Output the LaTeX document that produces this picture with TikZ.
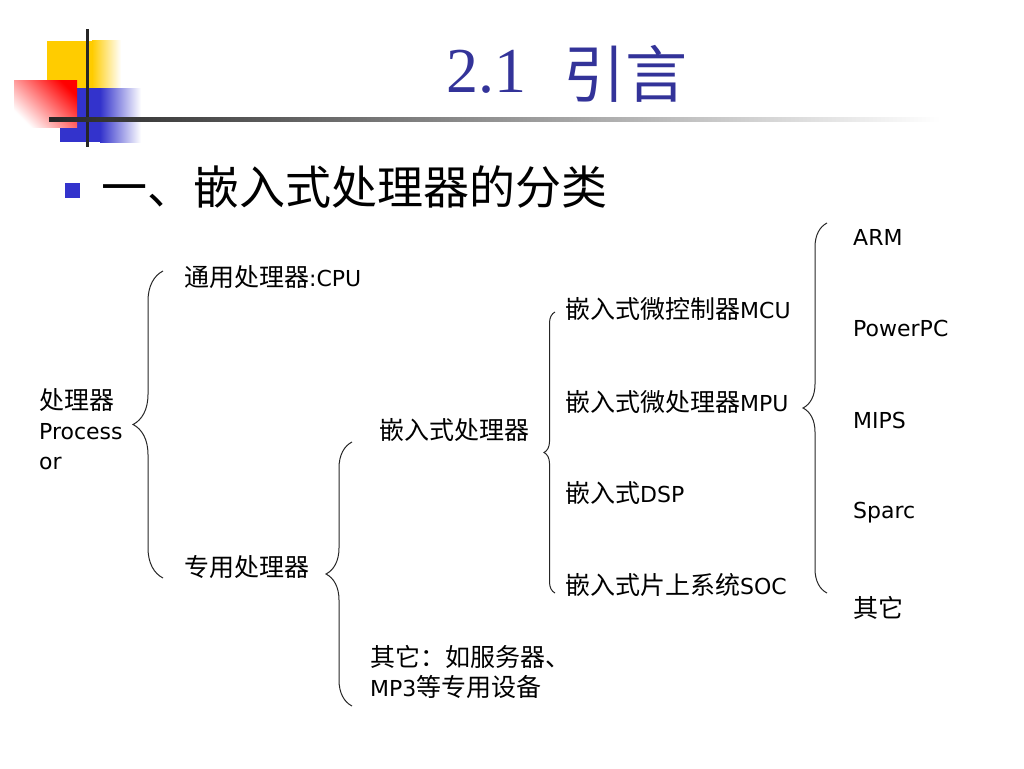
\documentclass[tikz,border=0pt]{standalone}
\usepackage{fontspec}
\setmainfont{DejaVu Sans}
\newfontfamily\cjk{Noto Sans CJK SC}
\newfontfamily\timesfont{Liberation Serif}
\usetikzlibrary{decorations.pathreplacing}
\definecolor{titleblue}{RGB}{51,51,153}
\definecolor{deckblue}{RGB}{51,51,204}
\definecolor{deckyellow}{RGB}{255,204,0}
\newcommand{\zh}[1]{{\cjk\fontsize{25}{30}\selectfont #1}}
\tikzset{
  item/.style={anchor=west, inner sep=0pt, align=left, font=\fontsize{22}{30}\selectfont},
  curly/.style={decorate, decoration={brace, amplitude=#1}, line width=1pt, black!85},
}
\begin{document}
\begin{tikzpicture}[x=1pt,y=-1pt]
      \useasboundingbox (0,0) rectangle (1024,768);

      % Corner squares
      \fill[deckyellow] (47,41) rectangle (92,88);
      \shade[left color=deckyellow, right color=white] (92,41) rectangle (121,88);
      \fill[deckblue] (60,88) rectangle (100,142);
      \shade[left color=deckblue, right color=white] (100,88) rectangle (141,142);
      \shade[top color=red, bottom color=white, shading angle=-45] (14,80) rectangle (77,127);

      % Cross lines
      \fill[black!85] (85.5,29) rectangle (88.5,147);
      \shade[left color=black!85, middle color=black!35, right color=white] (49,117) rectangle (940,121);

      % Title and heading
      \node[anchor=base west, inner sep=0pt, text=titleblue, font=\timesfont\fontsize{64}{64}\selectfont] (num) at (446,92) {2.1};
      \node[anchor=west, inner sep=0pt, text=titleblue, font=\cjk\fontsize{62}{62}\selectfont] (title) at (563,74) {引言};
      \node[fill=deckblue, minimum size=15pt, inner sep=0pt] (bullet) at (72.5,190) {};
      \node[anchor=west, inner sep=0pt, font=\cjk\fontsize{46}{46}\selectfont] (head) at (101,187) {一、嵌入式处理器的分类};

      % First level
      \node[item] (proc) at (39,429) {\zh{处理器}\\Process\\or};
      \node[item] (cpu) at (184,277) {\zh{通用处理器}:CPU};
      \node[item] (spec) at (184,567) {\zh{专用处理器}};

      % Second level
      \node[item] (emb) at (379,430) {\zh{嵌入式处理器}};
      \node[item] (other) at (370,672) {\zh{其它：如服务器、}\\MP3\zh{等专用设备}};

      % Third level
      \node[item] (mcu) at (565,309) {\zh{嵌入式微控制器}MCU};
      \node[item] (mpu) at (565,402) {\zh{嵌入式微处理器}MPU};
      \node[item] (dsp) at (565,493) {\zh{嵌入式}DSP};
      \node[item] (soc) at (565,585) {\zh{嵌入式片上系统}SOC};

      % Fourth level
      \node[item] (arm) at (853,237) {ARM};
      \node[item] (ppc) at (853,328) {PowerPC};
      \node[item] (mips) at (853,420) {MIPS};
      \node[item] (sparc) at (853,513) {Sparc};
      \node[item] (misc) at (853,608) {\zh{其它}};

      % Braces
      \coordinate (b1t) at (163,271);
      \coordinate (b1b) at (163,578);
      \coordinate (b2t) at (352,442);
      \coordinate (b2b) at (352,706);
      \coordinate (b3t) at (555,312);
      \coordinate (b3b) at (555,593);
      \coordinate (b4t) at (827,223);
      \coordinate (b4b) at (827,593);
      \draw[curly=30pt] (b1b) -- (b1t);
      \draw[curly=26pt] (b2b) -- (b2t);
      \draw[curly=11pt] (b3b) -- (b3t);
      \draw[curly=24pt] (b4b) -- (b4t);
    \end{tikzpicture}
\end{document}
